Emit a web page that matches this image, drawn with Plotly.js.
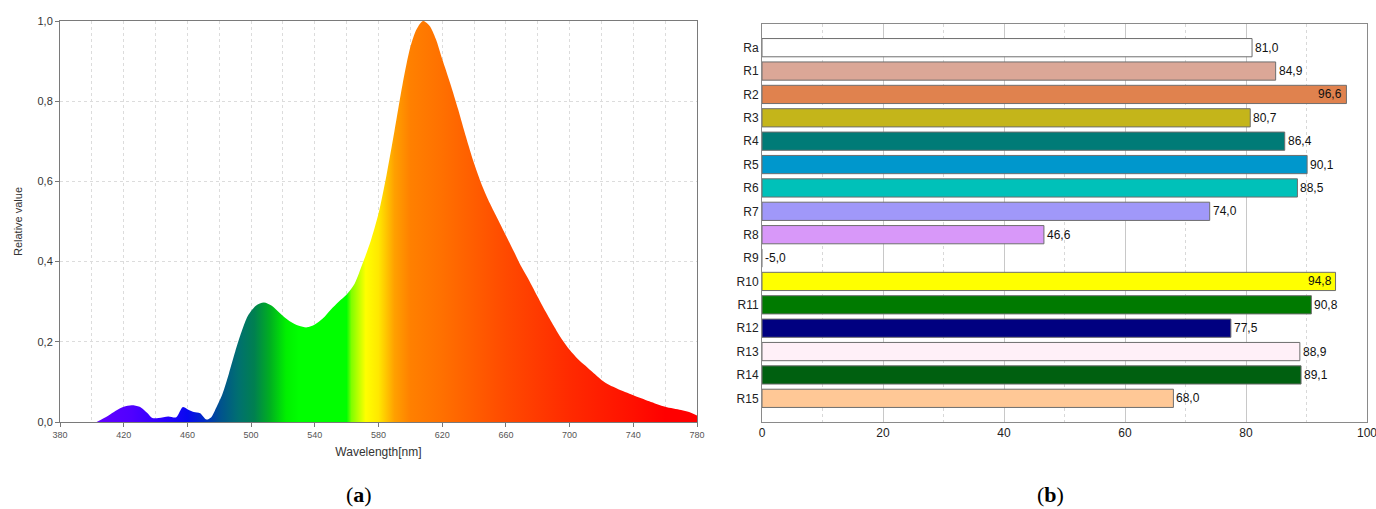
<!DOCTYPE html>
<html>
<head>
<meta charset="utf-8">
<script src="https://cdn.plot.ly/plotly-3.0.1.min.js"></script>
<style>
  html, body { margin: 0; padding: 0; background: #ffffff; }
  #chart { width: 1376px; height: 509px; }
</style>
</head>
<body>
<div id="chart"></div>
<script>
// ---- Spectrum (panel a) ----
const wavelength = [403, 410, 415, 420, 425, 430, 435, 438, 442, 448, 453, 457, 460, 464, 468, 472, 475, 478, 482, 486, 490, 494, 498, 503, 508, 513, 518, 524, 530, 535, 540, 545, 550, 555, 560, 565, 570, 575, 580, 585, 590, 595, 600, 604, 608, 612, 616, 620, 625, 630, 635, 640, 645, 650, 655, 660, 665, 670, 675, 680, 685, 690, 695, 700, 705, 710, 715, 720, 725, 730, 740, 750, 760, 770, 775, 780];
const relValue   = [0, 0.015, 0.028, 0.038, 0.042, 0.038, 0.022, 0.010, 0.010, 0.014, 0.012, 0.037, 0.032, 0.025, 0.022, 0.006, 0.012, 0.035, 0.070, 0.120, 0.175, 0.225, 0.265, 0.290, 0.298, 0.290, 0.272, 0.252, 0.240, 0.236, 0.243, 0.258, 0.280, 0.300, 0.318, 0.345, 0.395, 0.450, 0.520, 0.615, 0.725, 0.840, 0.935, 0.980, 1.000, 0.988, 0.955, 0.905, 0.845, 0.780, 0.710, 0.645, 0.590, 0.545, 0.505, 0.465, 0.425, 0.385, 0.350, 0.312, 0.275, 0.240, 0.207, 0.180, 0.158, 0.140, 0.122, 0.105, 0.092, 0.083, 0.067, 0.052, 0.038, 0.030, 0.025, 0.016];

// spectral colour stops (wavelength -> colour), styling only
const specStopNm  = [380, 405, 425, 445, 460, 470, 480, 492, 502, 512, 522, 530, 560, 563, 572, 580, 590, 600, 620, 660, 700, 740, 760, 780];
const specStopCol = ['#7000ff', '#6000ff', '#5000ff', '#2a00ff', '#0808f0', '#0028c8', '#005090', '#007070', '#008050', '#00b020', '#00f000', '#00ff00', '#00ff00', '#80ff00', '#ffff00', '#ffe800', '#ffa000', '#ff8000', '#ff7000', '#ff4a00', '#ff2a00', '#ff1000', '#ff0000', '#ff0000'];

// ---- Colour rendering indices (panel b) ----
const criLabels = ['Ra', 'R1', 'R2', 'R3', 'R4', 'R5', 'R6', 'R7', 'R8', 'R9', 'R10', 'R11', 'R12', 'R13', 'R14', 'R15'];
const criValues = [81.0, 84.9, 96.6, 80.7, 86.4, 90.1, 88.5, 74.0, 46.6, -5.0, 94.8, 90.8, 77.5, 88.9, 89.1, 68.0];
const criColors = ['#ffffff', '#dba797', '#e0824e', '#c4b51a', '#007b77', '#0097cc', '#00c1b9', '#a098f9', '#d898f9', '#e8002a', '#ffff00', '#007a00', '#000080', '#fff0f8', '#006010', '#ffc896'];

const colorscale = specStopNm.map((nm, i) => [(nm - 380) / 400, specStopCol[i]]);

const fmt = v => v.toFixed(1).replace('.', ',');

const spectrumTrace = {
  type: 'scatter',
  x: wavelength,
  y: relValue,
  mode: 'lines',
  line: { width: 0, shape: 'spline', smoothing: 0.8, color: 'rgba(0,0,0,0)' },
  fill: 'tozeroy',
  fillgradient: { type: 'horizontal', colorscale: colorscale, start: 380, stop: 780 },
  xaxis: 'x', yaxis: 'y',
  hoverinfo: 'x+y',
  showlegend: false
};

const barTrace = {
  type: 'bar',
  orientation: 'h',
  y: criLabels,
  x: criValues,
  width: 0.78,
  marker: { color: criColors, line: { color: '#6e6e6e', width: 1 } },
  xaxis: 'x2', yaxis: 'y2',
  showlegend: false
};

const labelFont = { family: 'Liberation Sans, Arial, sans-serif', size: 12, color: '#111' };
const barLabels = criValues.map((v, i) => {
  const inside = v > 93;
  return {
    xref: 'x2', yref: 'y2',
    x: inside ? v : Math.max(v, 0),
    y: criLabels[i],
    text: fmt(v),
    showarrow: false,
    xanchor: inside ? 'right' : 'left',
    xshift: inside ? -2 : 1,
    font: labelFont
  };
});

const gridDash = 'dot';
const layout = {
  width: 1376, height: 509,
  margin: { l: 0, r: 0, t: 0, b: 0 },
  paper_bgcolor: '#ffffff',
  plot_bgcolor: '#ffffff',
  separators: ', ',
  font: { family: 'Liberation Sans, Arial, sans-serif', color: '#333' },
  xaxis: {
    domain: [60 / 1376, 697 / 1376],
    anchor: 'y',
    range: [380, 780],
    tickmode: 'linear', tick0: 380, dtick: 40,
    ticks: 'outside', ticklen: 4, tickcolor: '#777',
    tickfont: { size: 9, color: '#555' },
    showgrid: true, gridcolor: '#dcdcdc', griddash: gridDash, gridwidth: 1,
    minor: { dtick: 20, tick0: 380, showgrid: true, gridcolor: '#dcdcdc', griddash: gridDash, ticks: '' },
    showline: true, linecolor: '#7a7a7a', linewidth: 1, mirror: true,
    zeroline: false,
    title: { text: 'Wavelength[nm]', font: { size: 12, color: '#333' }, standoff: 8 }
  },
  yaxis: {
    domain: [1 - 422 / 509, 1 - 21 / 509],
    anchor: 'x',
    range: [0, 1],
    tickmode: 'linear', tick0: 0, dtick: 0.2,
    tickformat: '.1f',
    ticks: 'outside', ticklen: 4, tickcolor: '#777',
    tickfont: { size: 11, color: '#333' },
    showgrid: true, gridcolor: '#dcdcdc', griddash: gridDash, gridwidth: 1,
    showline: true, linecolor: '#7a7a7a', linewidth: 1, mirror: true,
    zeroline: false,
    title: { text: 'Relative value', font: { size: 11, color: '#333' }, standoff: 12 }
  },
  xaxis2: {
    domain: [762 / 1376, 1367 / 1376],
    anchor: 'y2',
    range: [0, 100],
    tickmode: 'linear', tick0: 0, dtick: 20,
    ticks: '',
    ticklabeloverflow: 'allow',
    tickfont: { size: 12, color: '#222' },
    showgrid: true, gridcolor: '#c8c8c8', gridwidth: 1,
    minor: { dtick: 10, tick0: 0, showgrid: true, gridcolor: '#d8d8d8', griddash: 'dot', ticks: '' },
    showline: true, linecolor: '#8a8a8a', linewidth: 1, mirror: true,
    zeroline: false
  },
  yaxis2: {
    domain: [1 - 421.7 / 509, 1 - 24.3 / 509],
    anchor: 'x2',
    type: 'category',
    range: [16, -1],
    ticks: '',
    tickfont: { size: 12, color: '#222' },
    showgrid: false,
    showline: true, linecolor: '#8a8a8a', linewidth: 1, mirror: true,
    zeroline: false
  },
  annotations: barLabels.concat([
    {
      xref: 'paper', yref: 'paper',
      x: 359 / 1376, y: 1 - 494 / 509,
      text: '(<b>a</b>)', showarrow: false,
      xanchor: 'center', yanchor: 'middle',
      font: { family: 'Liberation Serif, DejaVu Serif, serif', size: 22, color: '#000' }
    },
    {
      xref: 'paper', yref: 'paper',
      x: 1050 / 1376, y: 1 - 494 / 509,
      text: '(<b>b</b>)', showarrow: false,
      xanchor: 'center', yanchor: 'middle',
      font: { family: 'Liberation Serif, DejaVu Serif, serif', size: 22, color: '#000' }
    }
  ])
};

Plotly.newPlot('chart', [spectrumTrace, barTrace], layout, { displayModeBar: false, staticPlot: true });
</script>
</body>
</html>
